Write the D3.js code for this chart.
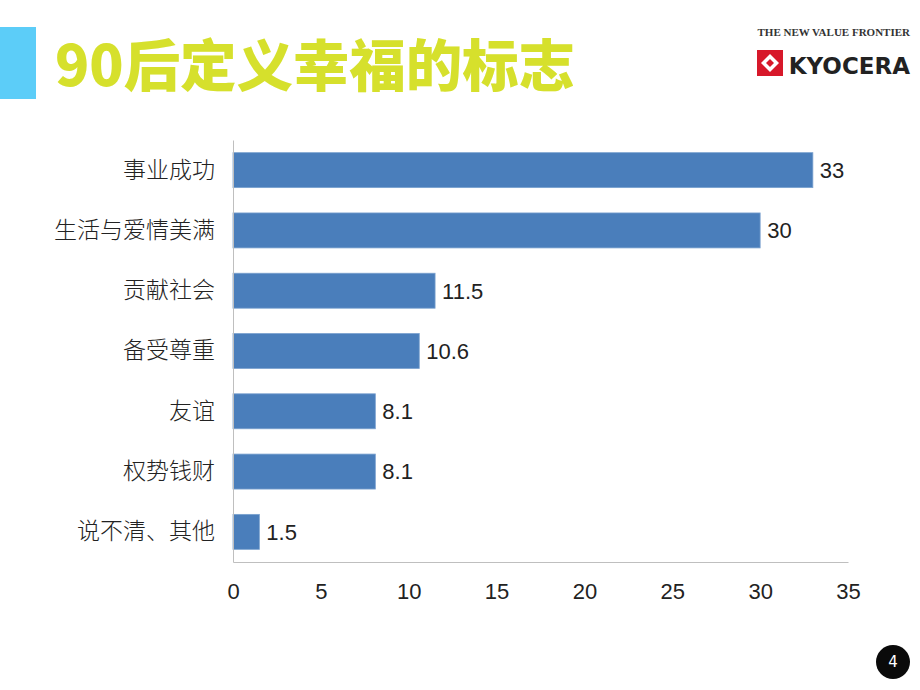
<!DOCTYPE html>
<html><head><meta charset="utf-8">
<script src="https://cdn.jsdelivr.net/npm/d3@7"></script>
<style>body{margin:0;background:#fff}svg{display:block}</style>
</head><body>
<script>
const categories = ["事业成功","生活与爱情美满","贡献社会","备受尊重","友谊","权势钱财","说不清、其他"];
const values = [33,30,11.5,10.6,8.1,8.1,1.5];
const valueLabels = ["33","30","11.5","10.6","8.1","8.1","1.5"];
const tickValues = [0,5,10,15,20,25,30,35];
const title = "90后定义幸福的标志";

const W=920,H=690;
const svg=d3.select("body").append("svg").attr("width",W).attr("height",H);
svg.append("rect").attr("width",W).attr("height",H).attr("fill","#fff");

// title block
svg.append("rect").attr("x",0).attr("y",27).attr("width",36).attr("height",72).attr("fill","#5ccdf8");
svg.append("text").attr("x",55).attr("y",86).text(title)
  .attr("font-family","'Noto Sans CJK SC',sans-serif").attr("font-weight","900")
  .attr("font-size",56).attr("fill","#d6e02c")
  .attr("textLength",520).attr("lengthAdjust","spacingAndGlyphs");

// logo
svg.append("text").attr("x",910).attr("y",36).attr("text-anchor","end")
  .attr("font-family","'Liberation Serif',serif").attr("font-size",11).attr("font-weight","bold")
  .attr("fill","#333").text("THE NEW VALUE FRONTIER");
const lg=svg.append("g").attr("transform","translate(757,50)");
lg.append("rect").attr("x",0).attr("y",0).attr("width",26).attr("height",26).attr("fill","#d7182a");
lg.append("path").attr("d","M13,4 L22,13 L13,22 L4,13 Z").attr("fill","#fff");
lg.append("path").attr("d","M13,9 L17,13 L13,17 L9,13 Z").attr("fill","#d7182a");
svg.append("text").attr("x",910).attr("y",74).attr("text-anchor","end").attr("font-family","'DejaVu Sans',sans-serif")
  .attr("font-weight","bold").attr("font-size",23).attr("fill","#222").text("KYOCERA");

// chart
const x=d3.scaleLinear().domain([0,35]).range([233,848]);
const y=d3.scaleBand().domain(categories).range([140,562]).paddingInner(0.42).paddingOuter(0.21);
const g=svg.append("g");
g.selectAll("rect.bar").data(values).join("rect").attr("class","bar")
  .attr("x",x(0)).attr("y",(d,i)=>y(categories[i]))
  .attr("width",d=>x(d)-x(0)).attr("height",y.bandwidth())
  .attr("fill","#4a7ebb").attr("stroke","#7aa1cf").attr("stroke-width",0.8);
g.selectAll("text.val").data(values).join("text").attr("class","val")
  .attr("x",d=>x(d)+7).attr("y",(d,i)=>y(categories[i])+y.bandwidth()/2).attr("dy","0.36em")
  .attr("font-family","'Liberation Sans',sans-serif").attr("font-size",22).attr("fill","#222")
  .text((d,i)=>valueLabels[i]);

const yAxis=d3.axisLeft(y).tickSize(0).tickPadding(18);
const ya=svg.append("g").attr("transform","translate(233,0)").call(yAxis);
ya.select(".domain").attr("stroke","#bfbfbf");
ya.selectAll("text").attr("font-family","'Noto Sans CJK SC',sans-serif").attr("font-weight",300)
  .attr("font-size",23).attr("fill","#222");

const xAxis=d3.axisBottom(x).tickValues(tickValues).tickSize(0).tickPadding(21).tickFormat(d3.format("d"));
const xa=svg.append("g").attr("transform","translate(0,562)").call(xAxis);
xa.select(".domain").attr("stroke","#bfbfbf");
xa.selectAll("text").attr("font-family","'Liberation Sans',sans-serif").attr("font-size",22).attr("fill","#222");

// page number
svg.append("circle").attr("cx",893).attr("cy",662).attr("r",17).attr("fill","#0a0a0a");
svg.append("text").attr("x",893).attr("y",662).attr("dy","0.36em").attr("text-anchor","middle")
  .attr("font-family","'DejaVu Sans',sans-serif").attr("font-size",15).attr("fill","#fff").text("4");
</script>
</body></html>
